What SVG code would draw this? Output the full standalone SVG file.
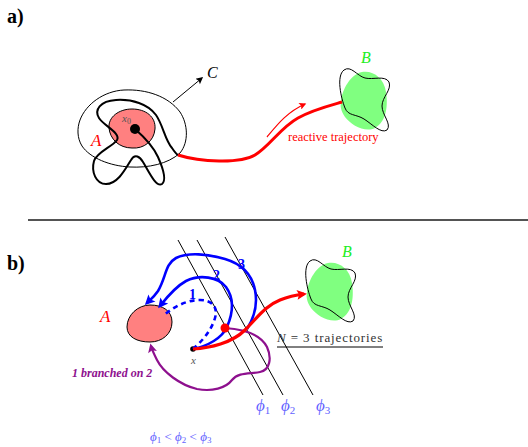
<svg xmlns="http://www.w3.org/2000/svg" width="528" height="447" viewBox="0 0 528 447">
<style>
text{font-family:"Liberation Serif","Times New Roman",serif}
.cal{font-style:italic}
.thin{fill:none;stroke:#000;stroke-width:1}
.blob-a{fill:#ff8080;stroke:#000;stroke-width:1}
.blob-b{fill:#80ff80;stroke:none}
.blue{fill:none;stroke:#0000ff;stroke-width:2.6}
.phi{fill:#6262ff;font-style:italic}
</style>
<defs>
<marker id="hb" viewBox="0 0 10 10" refX="7" refY="5" markerUnits="userSpaceOnUse" markerWidth="12" markerHeight="10" orient="auto"><path d="M0,0 L10,5 L0,10 L2,5 z" fill="#0000ff"/></marker>
<marker id="hr" viewBox="0 0 10 10" refX="7" refY="5" markerUnits="userSpaceOnUse" markerWidth="13" markerHeight="10" orient="auto"><path d="M0,0 L10,5 L0,10 L2,5 z" fill="#ff0000"/></marker>
<marker id="hrs" viewBox="0 0 10 10" refX="8" refY="5" markerUnits="userSpaceOnUse" markerWidth="9" markerHeight="7" orient="auto"><path d="M0,0 L10,5 L0,10 L2,5 z" fill="#ff0000"/></marker>
<marker id="hp" viewBox="0 0 10 10" refX="7" refY="5" markerUnits="userSpaceOnUse" markerWidth="11" markerHeight="9" orient="auto"><path d="M0,0 L10,5 L0,10 L2,5 z" fill="#8e108e"/></marker>
<marker id="hk" viewBox="0 0 10 10" refX="8" refY="5" markerUnits="userSpaceOnUse" markerWidth="8" markerHeight="7" orient="auto"><path d="M0,0 L10,5 L0,10 L2,5 z" fill="#000"/></marker>
<path id="bout" d="M345,108 C341,98 336,76 344,70 C351,65 357,76 365,78 C373,80 385,75 389,82 C392,90 382,97 382,106 C382,115 392,124 387,130 C381,134 372,124 364,119 C356,114 348,116 345,108 Z"/>
<path id="bfill" d="M341,102 C342,89 351,74 362,72 C373,70 384,78 386,92 C388,105 387,121 375,128 C365,133 351,125 345,117 C341,111 340,106 341,102 Z"/>
</defs>

<!-- panel labels -->
<g id="label-a"><text x="7" y="23" font-size="20" font-weight="bold">a)</text></g>
<g id="label-b"><text x="7" y="270" font-size="20" font-weight="bold">b)</text></g>
<g id="separator"><line x1="28" y1="220" x2="528" y2="220" stroke="#1a1a1a" stroke-width="1.5"/></g>

<!-- panel a -->
<g id="a-region-C">
<path class="thin" d="M80,120 C86,104 104,91 124,90 C146,89 168,96 180,112 C188,124 189,142 180,153 C168,164 148,168 130,167 C110,166 90,158 82,146 C77,138 77,128 80,120 Z"/>
<text class="cal" x="207" y="78" font-size="16">C</text>
</g>
<g id="a-set-A">
<path class="blob-a" d="M109,128 C108,117 119,109 132,109 C146,109 156,117 155,129 C154,141 144,149 132,148 C119,148 110,139 109,128 Z"/>
<text class="cal" x="91" y="146" font-size="17" fill="#ff0000">A</text>
<text x="122" y="122" font-size="11" fill="#555" font-style="italic">x<tspan font-size="8" dy="2" font-style="normal">0</tspan></text>
<circle cx="135" cy="129" r="5" fill="#000"/>
</g>
<g id="a-set-B">
<use href="#bfill" class="blob-b"/>
<use href="#bout" class="thin"/>
<text class="cal" x="361" y="63" font-size="16" fill="#22ee22">B</text>
</g>
<g id="a-reactive-label"><text x="288" y="141" font-size="12.5" fill="#ff0000">reactive trajectory</text></g>

<!-- panel b -->
<g id="b-levelsets">
<line class="thin" x1="178" y1="240" x2="263" y2="395"/>
<line class="thin" x1="197" y1="240" x2="283" y2="395"/>
<line class="thin" x1="225" y1="237" x2="313" y2="395"/>
<text class="phi" x="256" y="411" font-size="17">ϕ<tspan font-size="11" dy="3" font-style="normal">1</tspan></text>
<text class="phi" x="281" y="411" font-size="17">ϕ<tspan font-size="11" dy="3" font-style="normal">2</tspan></text>
<text class="phi" x="316" y="411" font-size="17">ϕ<tspan font-size="11" dy="3" font-style="normal">3</tspan></text>
<text class="phi" x="150" y="441" font-size="13">ϕ<tspan font-size="9" dy="2" font-style="normal">1</tspan><tspan dy="-2" font-style="normal"> &lt; </tspan>ϕ<tspan font-size="9" dy="2" font-style="normal">2</tspan><tspan dy="-2" font-style="normal"> &lt; </tspan>ϕ<tspan font-size="9" dy="2" font-style="normal">3</tspan></text>
</g>
<g id="b-set-A">
<path class="blob-a" d="M127,327 C127,315 138,305 150,305 C163,305 172,311 172,322 C172,334 162,342 150,342 C137,342 127,337 127,327 Z"/>
<text class="cal" x="100" y="322" font-size="17" fill="#ff0000">A</text>
</g>
<g id="b-set-B">
<use href="#bfill" class="blob-b" transform="translate(-34,191)"/>
<use href="#bout" class="thin" transform="translate(-34,191)"/>
<text class="cal" x="342" y="257" font-size="16" fill="#22ee22">B</text>
</g>
<g id="b-start-x">
<circle cx="193" cy="349" r="2.8" fill="#000"/>
<text x="191" y="364" font-size="11" fill="#555" font-style="italic">x</text>
</g>
<g id="b-N-label">
<text x="277" y="342" font-size="13" fill="#333" letter-spacing="0.9"><tspan font-style="italic">N</tspan> = 3 trajectories</text>
<line x1="277" y1="347" x2="383" y2="347" stroke="#000" stroke-width="1"/>
</g>
<g id="b-branch-label"><text x="72" y="377" font-size="12" font-weight="bold" font-style="italic" fill="#8e108e">1 branched on 2</text></g>

<!-- connectors -->
<g id="connectors">
<!-- panel a -->
<line x1="173" y1="102" x2="202" y2="78" stroke="#000" stroke-width="1" marker-end="url(#hk)"/>
<path fill="none" stroke="#000" stroke-width="2" d="M135,129 C143,136 153,146 158,157 C162,166 167,180 162,184 C156,188 148,170 143,162 C140,157 135,153 131,160 C126,168 118,184 106,184 C96,184 91,172 94,161 C97,152 112,147 117,140 C121,133 104,126 99,118 C94,110 100,101 116,100 C132,99 148,104 156,115 C163,125 165,140 172,148 C174,151 176,154 178,155"/>
<path fill="none" stroke="#ff0000" stroke-width="3" d="M178,155 C200,162 240,164 255,155 C270,146 280,128 298,118 C312,110 328,106 342,102"/>
<path fill="none" stroke="#ff0000" stroke-width="1.2" marker-end="url(#hrs)" d="M267,137 C277,125 287,112 305,104"/>
<!-- panel b -->
<path class="blue" stroke-dasharray="5,4" d="M193,349 C200,343 211,332 215,318 C218,308 213,300 200,300 C186,300 174,307 164,315"/>
<path class="blue" marker-end="url(#hb)" d="M193,349 C208,346 222,338 227,327 C233,313 234,298 226,287 C218,277 200,274 186,281 C175,287 167,297 160,306"/>
<path class="blue" marker-end="url(#hb)" d="M247,329 C254,318 258,305 255,290 C252,275 242,264 225,259 C208,254 188,252 176,258 C165,264 166,278 158,291 C154,297 150,300 147,303"/>
<path fill="none" stroke="#8e108e" stroke-width="2.2" marker-end="url(#hp)" d="M225,328 C240,329 260,333 267,347 C272,358 270,370 260,372 C250,374 238,372 232,380 C226,388 212,392 197,389 C180,385 163,372 157,360 C154,354 152,350 151,346"/>
<path fill="none" stroke="#ff0000" stroke-width="3.2" marker-end="url(#hr)" d="M193,349 C210,348 232,343 245,330 C258,317 265,306 280,300 C290,296 296,295 304,294"/>
<circle cx="225" cy="328" r="4.5" fill="#ff0000"/>
<text x="189" y="299" font-size="14" font-weight="bold" fill="#0000ff">1</text>
<text x="213" y="280" font-size="14" font-weight="bold" fill="#0000ff">2</text>
<text x="238" y="269" font-size="14" font-weight="bold" fill="#0000ff">3</text>
</g>
</svg>
